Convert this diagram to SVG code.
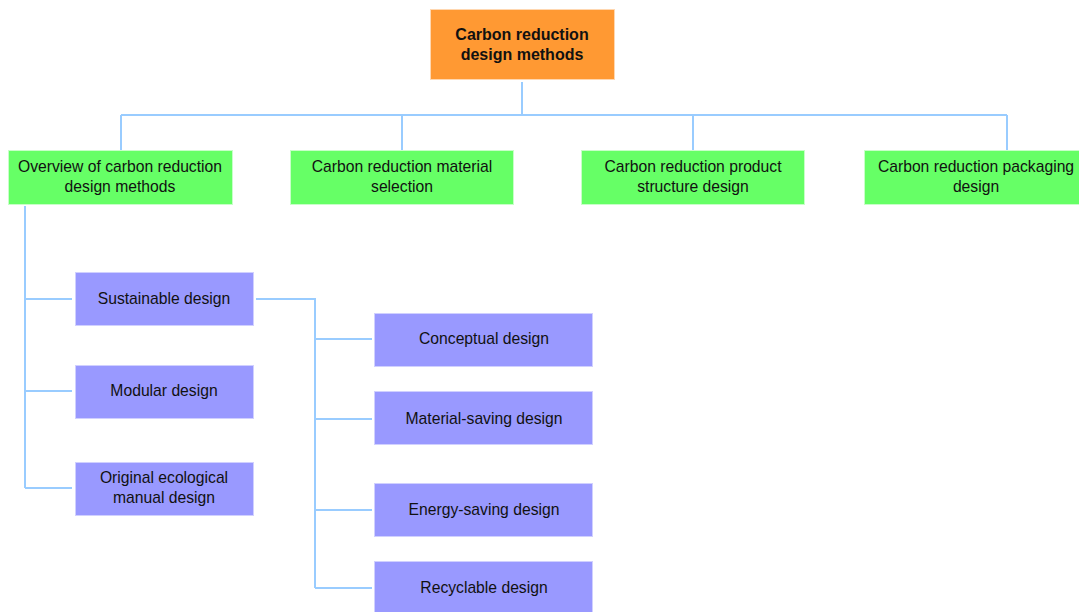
<svg xmlns="http://www.w3.org/2000/svg" width="1079" height="612" viewBox="0 0 1079 612">
<style>
.t{font-family:"Liberation Sans",Arial,sans-serif;font-size:15.7px;fill:#111;text-anchor:middle}
.b{font-weight:bold;font-size:16px}
.c{fill:none;stroke:#99ccff;stroke-width:2}
.o{fill:#ff9933;stroke:#ffd7b0;stroke-width:1}
.g{fill:#66ff66;stroke:#c8ffc8;stroke-width:1}
.p{fill:#9999ff;stroke:#d0d0ff;stroke-width:1}
</style>
<rect width="1079" height="612" fill="#fff"/>
<g id="connectors">
<path class="c" d="M522,82V115M121,115H1007M121,115V150M402,115V150M693,115V150M1007,115V150"/>
<path class="c" d="M25,206V488M25,299H72M25,391H72M25,488H72"/>
<path class="c" d="M256,299H315V588M315,339H372M315,419H372M315,510H372M315,588H372"/>
</g>
<g id="root"><rect class="o" x="430.5" y="9.5" width="184" height="70"/><text class="t b" x="522" y="40">Carbon reduction</text><text class="t b" x="522" y="60">design methods</text></g>
<g id="overview"><rect class="g" x="8.5" y="150.5" width="224" height="54"/><text class="t" x="120" y="172">Overview of carbon reduction</text><text class="t" x="120" y="192">design methods</text></g>
<g id="material"><rect class="g" x="290.5" y="150.5" width="223" height="54"/><text class="t" x="402" y="172">Carbon reduction material</text><text class="t" x="402" y="192">selection</text></g>
<g id="structure"><rect class="g" x="581.5" y="150.5" width="223" height="54"/><text class="t" x="693" y="172">Carbon reduction product</text><text class="t" x="693" y="192">structure design</text></g>
<g id="packaging"><rect class="g" x="864.5" y="150.5" width="215" height="54"/><text class="t" x="976" y="172">Carbon reduction packaging</text><text class="t" x="976" y="192">design</text></g>
<g id="sustainable"><rect class="p" x="75.5" y="272.5" width="178" height="53"/><text class="t" x="164" y="304">Sustainable design</text></g>
<g id="modular"><rect class="p" x="75.5" y="365.5" width="178" height="53"/><text class="t" x="164" y="396">Modular design</text></g>
<g id="original"><rect class="p" x="75.5" y="462.5" width="178" height="53"/><text class="t" x="164" y="483">Original ecological</text><text class="t" x="164" y="503">manual design</text></g>
<g id="conceptual"><rect class="p" x="374.5" y="313.5" width="218" height="53"/><text class="t" x="484" y="344">Conceptual design</text></g>
<g id="materialsaving"><rect class="p" x="374.5" y="391.5" width="218" height="53"/><text class="t" x="484" y="424">Material-saving design</text></g>
<g id="energysaving"><rect class="p" x="374.5" y="483.5" width="218" height="53"/><text class="t" x="484" y="515">Energy-saving design</text></g>
<g id="recyclable"><rect class="p" x="374.5" y="561.5" width="218" height="53"/><text class="t" x="484" y="593">Recyclable design</text></g>
</svg>
